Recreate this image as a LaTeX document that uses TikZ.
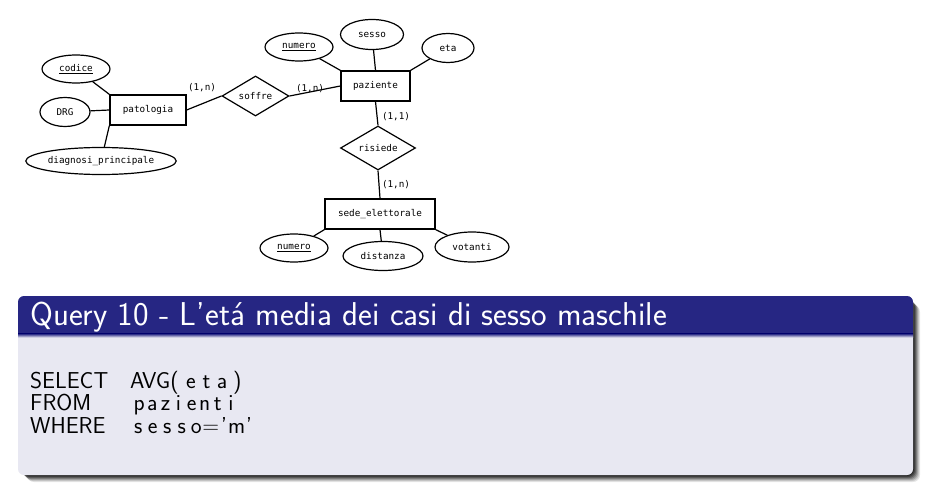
\documentclass[tikz,border=0pt]{standalone}
\usepackage{fontspec}
\newfontfamily\ermono{DejaVu Sans Mono}
\usetikzlibrary{shapes.geometric}
\definecolor{titlebg}{HTML}{262683}
\definecolor{bodybg}{HTML}{E8E8F2}
\makeatletter
\newcommand\pitched[2]{\@tfor\pch:=#2\do{\makebox[#1][c]{\pch}}}
\makeatother
\tikzset{
  every node/.style={font=\ermono\fontsize{9.3}{11}\selectfont, inner sep=0pt},
  ent/.style={draw, line width=1.3pt, minimum width=#1, minimum height=30},
  attr/.style={draw, ellipse, line width=1.2pt, minimum width=#1},
  rel/.style={draw, diamond, line width=1.2pt, aspect=1.7},
  conn/.style={line width=1.2pt},
  card/.style={font=\ermono\fontsize{9.3}{11}\selectfont},
  code/.style={anchor=base west, font=\sffamily\fontsize{23}{26}\selectfont},
}
\newcommand{\keyu}[1]{\underline{#1}}
\begin{document}
\begin{tikzpicture}[x=1pt,y=-1pt]
\useasboundingbox (0,0) rectangle (933,497);
% entities
\node[ent=76] (pat) at (148,110) {patologia};
\node[ent=69] (paz) at (375.5,86) {paziente};
\node[ent=110] (sede) at (380,214) {sede\_elettorale};
% relations
\node[rel, minimum width=67, minimum height=40] (soffre) at (255.5,96) {soffre};
\node[rel, minimum width=75, minimum height=44] (risiede) at (378,148) {risiede};
% attributes
\node[attr=68, minimum height=28] (codice) at (76,69) {\keyu{codice}};
\node[attr=50, minimum height=29] (drg) at (65,112) {DRG};
\node[attr=142, minimum height=27] (diag) at (101,161) {diagnosi\_principale};
\node[attr=68, minimum height=28] (num1) at (299,47) {\keyu{numero}};
\node[attr=63, minimum height=30] (sesso) at (372,34.5) {sesso};
\node[attr=52, minimum height=29] (eta) at (448,48) {eta};
\node[attr=68, minimum height=28] (num2) at (294,248) {\keyu{numero}};
\node[attr=80, minimum height=29] (dist) at (383,256) {distanza};
\node[attr=74, minimum height=30] (vot) at (472,247) {votanti};
% connectors
\draw[conn] (codice) -- (pat.north west);
\draw[conn] (drg) -- (pat.west);
\draw[conn] (diag) -- (pat.south west);
\draw[conn] (pat.east) -- (soffre.west);
\draw[conn] (soffre.east) -- (paz.west);
\draw[conn] (num1) -- (paz.north west);
\draw[conn] (sesso) -- (paz.north);
\draw[conn] (eta) -- (paz.north east);
\draw[conn] (paz.south) -- (risiede.north);
\draw[conn] (risiede.south) -- (sede.north);
\draw[conn] (num2) -- (sede.south west);
\draw[conn] (dist) -- (sede.south);
\draw[conn] (vot) -- (sede.south east);
% cardinalities
\node[card] (c1) at (202,88) {(1,n)};
\node[card] (c2) at (310,89) {(1,n)};
\node[card] (c3) at (396,117) {(1,1)};
\node[card] (c4) at (396,185) {(1,n)};
% block shadow
\foreach \d/\o in {9/0.10, 8/0.13, 7/0.17, 6/0.22, 5/0.27, 4/0.32, 3/0.36} {
  \fill[black, opacity=\o, rounded corners=7] (18+\d,296+\d) rectangle (913+\d-2,475+\d-2);
}
% block body and title
\fill[bodybg, rounded corners=6] (18,296) rectangle (913,475);
\fill[titlebg, rounded corners=6] (18,296) rectangle (913,320);
\fill[titlebg] (18,312) rectangle (913,334);
\shade[top color=titlebg, bottom color=bodybg] (18,333.8) rectangle (913,337.5);
\node[anchor=base west, text=white, font=\sffamily\fontsize{33}{38}\selectfont] (title) at (30,325) {Query 10 - L'etá media dei casi di sesso maschile};
% code
\node[code] (l1) at (30,388) {SELECT};
\node[code] (l2) at (30,410.5) {FROM};
\node[code] (l3) at (30,433) {WHERE};
\node[code] (r1a) at (130,388) {AVG(};
\node[code] (r1b) at (183,388) {\pitched{15.5pt}{eta)}};
\node[code] (r2) at (132.5,410.5) {\pitched{13.1pt}{pazienti}};
\node[code] (r3) at (130.75,433) {\pitched{14.5pt}{sesso=}\pitched{12.5pt}{'m'}};
\end{tikzpicture}
\end{document}
